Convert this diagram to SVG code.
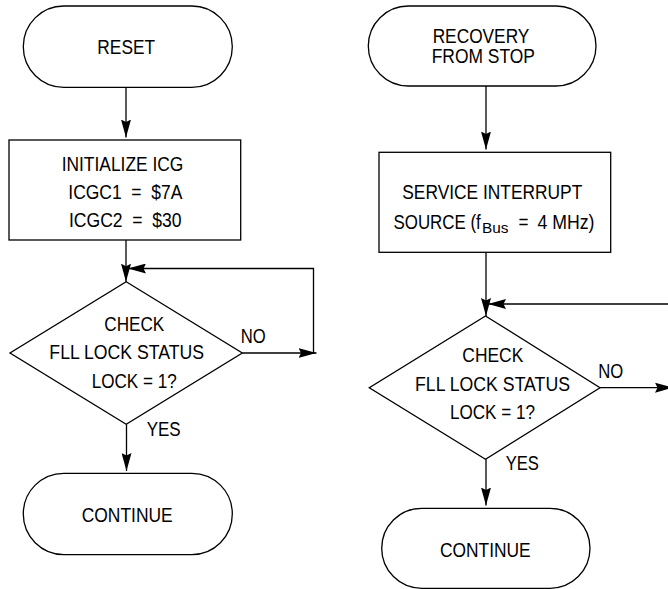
<svg xmlns="http://www.w3.org/2000/svg" width="668" height="589" viewBox="0 0 668 589">
<style>
  .shape { fill: #fff; stroke: #000; stroke-width: 1.3; }
  .conn { fill: none; stroke: #000; stroke-width: 1.3; }
  text { font-family: "Liberation Sans Narrow", "Liberation Sans", Arial, sans-serif; font-size: 20px; fill: #000; text-anchor: middle; white-space: pre; }
  .start { text-anchor: start; }
  .sub { font-size: 14px; }
</style>
<defs>
  <marker id="arrow" viewBox="0 0 18 10" refX="18" refY="5" markerWidth="18" markerHeight="10" markerUnits="userSpaceOnUse" orient="auto">
    <path d="M0,0 L18,5 L0,10 L2.5,5 Z" fill="#000"/>
  </marker>
</defs>
<rect width="668" height="589" fill="#fff"/>

<g id="connectors">
  <path class="conn" d="M126,87.3 V137.5" marker-end="url(#arrow)"/>
  <path class="conn" d="M126,240 V281.7" marker-end="url(#arrow)"/>
  <path class="conn" d="M242.3,353 H316.5" marker-end="url(#arrow)"/>
  <path class="conn" d="M313.5,353 V268.5 H128" marker-end="url(#arrow)"/>
  <path class="conn" d="M126.5,424.3 V471" marker-end="url(#arrow)"/>

  <path class="conn" d="M486,86 V149.5" marker-end="url(#arrow)"/>
  <path class="conn" d="M486,252.3 V316" marker-end="url(#arrow)"/>
  <path class="conn" d="M668,304 H488" marker-end="url(#arrow)"/>
  <path class="conn" d="M600,387.7 H673" marker-end="url(#arrow)"/>
  <path class="conn" d="M486,459.3 V505.5" marker-end="url(#arrow)"/>
</g>

<g id="reset">
  <rect class="shape" x="23.3" y="6" width="209" height="81.3" rx="40.5" ry="40.5"/>
  <text x="126.2" y="54" textLength="57.7" lengthAdjust="spacingAndGlyphs">RESET</text>
</g>

<g id="init-icg">
  <rect class="shape" x="9" y="140" width="231.7" height="100"/>
  <text x="122.5" y="170.7" textLength="121.7" lengthAdjust="spacingAndGlyphs">INITIALIZE ICG</text>
  <text x="125.3" y="199.3" textLength="114" lengthAdjust="spacingAndGlyphs">ICGC1  =  $7A</text>
  <text x="125.3" y="227.3" textLength="112.7" lengthAdjust="spacingAndGlyphs">ICGC2  =  $30</text>
</g>

<g id="check-left">
  <polygon class="shape" points="126.2,281.7 242.3,353 126.2,424.3 10,353"/>
  <text x="134.3" y="330.7" textLength="60" lengthAdjust="spacingAndGlyphs">CHECK</text>
  <text x="126.7" y="359.3" textLength="154.7" lengthAdjust="spacingAndGlyphs">FLL LOCK STATUS</text>
  <text x="134.2" y="387.7" textLength="85" lengthAdjust="spacingAndGlyphs">LOCK = 1?</text>
  <text x="253.2" y="343.3" textLength="25" lengthAdjust="spacingAndGlyphs">NO</text>
  <text x="163.7" y="435.7" textLength="34" lengthAdjust="spacingAndGlyphs">YES</text>
</g>

<g id="continue-left">
  <rect class="shape" x="23.3" y="473.3" width="209" height="81.3" rx="40.5" ry="40.5"/>
  <text x="127.2" y="521.7" textLength="91" lengthAdjust="spacingAndGlyphs">CONTINUE</text>
</g>

<g id="recovery">
  <rect class="shape" x="368.3" y="6" width="227.7" height="80" rx="40" ry="40"/>
  <text x="481" y="42.7" textLength="96.7" lengthAdjust="spacingAndGlyphs">RECOVERY</text>
  <text x="483.3" y="63.3" textLength="103.3" lengthAdjust="spacingAndGlyphs">FROM STOP</text>
</g>

<g id="service">
  <rect class="shape" x="379" y="152.3" width="231.7" height="100"/>
  <text x="492.3" y="199" textLength="180" lengthAdjust="spacingAndGlyphs">SERVICE INTERRUPT</text>
  <text class="start" transform="translate(393.5,228.8) scale(0.845,1)" x="0" y="0">SOURCE (f</text>
  <text class="start sub" x="482" y="233.3" textLength="26.5" lengthAdjust="spacingAndGlyphs">Bus</text>
  <text class="start" x="518.5" y="228.8" textLength="10" lengthAdjust="spacingAndGlyphs">=</text>
  <text class="start" x="537.5" y="228.8" textLength="57" lengthAdjust="spacingAndGlyphs">4 MHz)</text>
</g>

<g id="check-right">
  <polygon class="shape" points="485.5,316 600,387.7 485.5,459.3 369.3,387.7"/>
  <text x="492.8" y="361.7" textLength="61" lengthAdjust="spacingAndGlyphs">CHECK</text>
  <text x="492.5" y="391" textLength="155" lengthAdjust="spacingAndGlyphs">FLL LOCK STATUS</text>
  <text x="492.5" y="419.3" textLength="85" lengthAdjust="spacingAndGlyphs">LOCK = 1?</text>
  <text x="610.8" y="378.3" textLength="25" lengthAdjust="spacingAndGlyphs">NO</text>
  <text x="522.3" y="470" textLength="33.3" lengthAdjust="spacingAndGlyphs">YES</text>
</g>

<g id="continue-right">
  <rect class="shape" x="381.7" y="508.3" width="208.3" height="80" rx="40" ry="40"/>
  <text x="485.3" y="556.7" textLength="90.7" lengthAdjust="spacingAndGlyphs">CONTINUE</text>
</g>
</svg>
